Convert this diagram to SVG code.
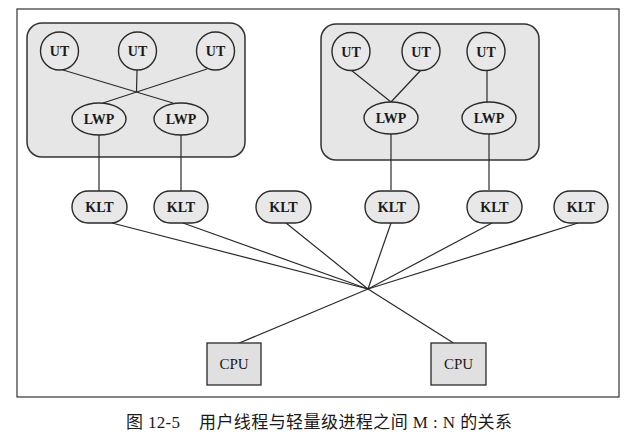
<svg xmlns="http://www.w3.org/2000/svg" width="638" height="444" viewBox="0 0 638 444">
<style>
.frame{fill:none;stroke:#333;stroke-width:1.2}
.grp{fill:#e6e6e6;stroke:#333;stroke-width:1.5}
.n{fill:#e8e8e8;stroke:#2a2a2a;stroke-width:1.4}
.cpu{fill:#e0e0e0;stroke:#2a2a2a;stroke-width:1.3}
.c line{stroke:#2a2a2a;stroke-width:1.2;fill:none}
.t{font-family:"Liberation Serif","Times New Roman",serif;font-size:14px;font-weight:bold;fill:#1a1a1a;text-anchor:middle}
.tc{font-family:"Liberation Serif","Times New Roman",serif;font-size:15px;fill:#1a1a1a;text-anchor:middle}
.cap{font-family:"Liberation Serif","Noto Sans CJK SC",serif;font-size:17px;fill:#1a1a1a}
</style>
<rect width="638" height="444" fill="#fff"/>
<rect class="frame" x="17" y="9" width="602" height="388"/>
<g id="process1"><rect class="grp" x="27" y="23" width="218" height="134" rx="15"/></g>
<g id="process2"><rect class="grp" x="321" y="24" width="218" height="136" rx="15"/></g>
<g id="connectors" class="c">
<line x1="63" y1="70" x2="173" y2="103"/>
<line x1="207" y1="69" x2="103" y2="103"/>
<line x1="137" y1="70" x2="136.5" y2="92"/>
<line x1="351" y1="70" x2="391" y2="102"/>
<line x1="421" y1="70" x2="391" y2="102"/>
<line x1="487" y1="70" x2="487" y2="102"/>
<line x1="99" y1="135" x2="99" y2="191"/>
<line x1="181" y1="135" x2="181" y2="191"/>
<line x1="391" y1="134" x2="391" y2="190"/>
<line x1="489" y1="134" x2="489" y2="190"/>
<line x1="112" y1="223" x2="368" y2="289"/>
<line x1="183" y1="223" x2="368" y2="289"/>
<line x1="286" y1="223" x2="368" y2="289"/>
<line x1="391" y1="223" x2="368" y2="289"/>
<line x1="492" y1="223" x2="368" y2="289"/>
<line x1="578" y1="223" x2="368" y2="289"/>
<line x1="368" y1="289" x2="237" y2="344"/>
<line x1="368" y1="289" x2="455" y2="344"/>
</g>
<g id="ut1"><circle class="n" cx="59.5" cy="51" r="19"/><text class="t" x="59.5" y="56">UT</text></g>
<g id="ut2"><circle class="n" cx="137.5" cy="51" r="19"/><text class="t" x="137.5" y="56">UT</text></g>
<g id="ut3"><circle class="n" cx="215.5" cy="51" r="19"/><text class="t" x="215.5" y="56">UT</text></g>
<g id="ut4"><circle class="n" cx="351" cy="51.5" r="19"/><text class="t" x="351" y="56.5">UT</text></g>
<g id="ut5"><circle class="n" cx="421" cy="51.5" r="19"/><text class="t" x="421" y="56.5">UT</text></g>
<g id="ut6"><circle class="n" cx="486" cy="51.5" r="19"/><text class="t" x="486" y="56.5">UT</text></g>
<g id="lwp1"><ellipse class="n" cx="99" cy="119" rx="27" ry="16"/><text class="t" x="99" y="124">LWP</text></g>
<g id="lwp2"><ellipse class="n" cx="181" cy="119" rx="27" ry="16"/><text class="t" x="181" y="124">LWP</text></g>
<g id="lwp3"><ellipse class="n" cx="391" cy="118" rx="27" ry="16"/><text class="t" x="391" y="123">LWP</text></g>
<g id="lwp4"><ellipse class="n" cx="489" cy="118" rx="27" ry="16"/><text class="t" x="489" y="123">LWP</text></g>
<g id="klt1"><rect class="n" x="72" y="191" width="55" height="32" rx="16"/><text class="t" x="99.5" y="212">KLT</text></g>
<g id="klt2"><rect class="n" x="154" y="191" width="54" height="32" rx="16"/><text class="t" x="181" y="212">KLT</text></g>
<g id="klt3"><rect class="n" x="256" y="191" width="55" height="32" rx="16"/><text class="t" x="283.5" y="212">KLT</text></g>
<g id="klt4"><rect class="n" x="365" y="191" width="54" height="32" rx="16"/><text class="t" x="392" y="212">KLT</text></g>
<g id="klt5"><rect class="n" x="467" y="191" width="55" height="32" rx="16"/><text class="t" x="494.5" y="212">KLT</text></g>
<g id="klt6"><rect class="n" x="554" y="191" width="54" height="32" rx="16"/><text class="t" x="581" y="212">KLT</text></g>
<g id="cpu1"><rect class="cpu" x="207" y="343" width="54" height="42"/><text class="tc" x="234" y="369">CPU</text></g>
<g id="cpu2"><rect class="cpu" x="431" y="343" width="55" height="42"/><text class="tc" x="458.5" y="369">CPU</text></g>
<g id="caption">
<text class="cap" x="126" y="428" textLength="54" lengthAdjust="spacing">图 12-5</text>
<text class="cap" x="199" y="428" textLength="313" lengthAdjust="spacing">用户线程与轻量级进程之间 M : N 的关系</text>
</g>
</svg>
